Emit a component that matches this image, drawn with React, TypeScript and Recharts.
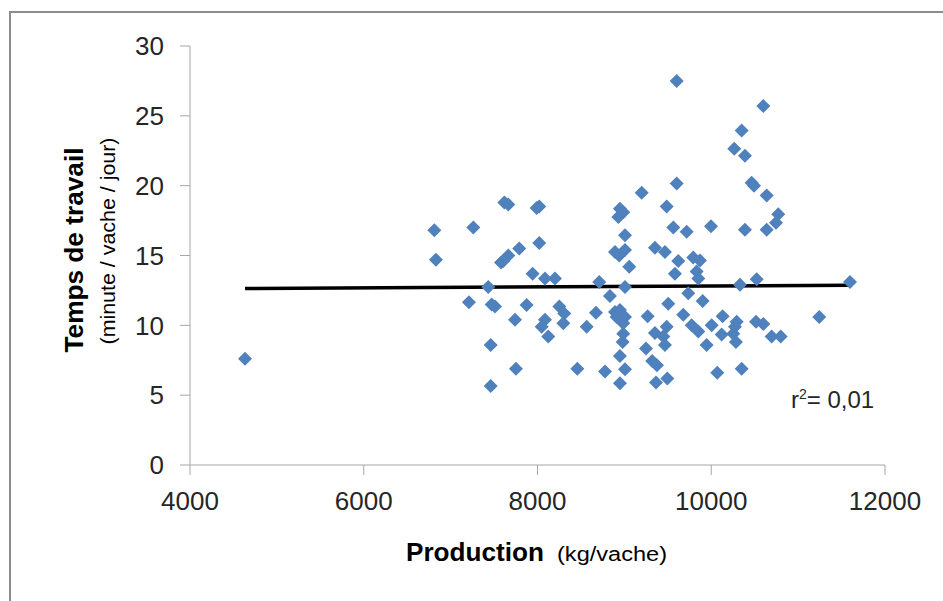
import { ScatterChart, Scatter, XAxis, YAxis, ReferenceLine, Label } from 'recharts';

// Production laitière (kg/vache) et temps de travail (min/vache/jour)
const production = [
  4633, 6812, 6831, 7261, 7618, 7664, 8020, 7990, 8020, 7790,
  7664, 7606, 7580, 7944, 8086, 8201, 7433, 7211, 7473, 7511,
  7875, 7741, 8251, 8308, 8086, 8048, 8124, 8297, 7461, 7752,
  7461, 9602, 9199, 8949, 8987, 8930, 9487, 9563, 9717, 9997,
  9007, 8892, 8941, 9007, 9352, 9467, 9620, 9582, 9793, 9870,
  9832, 9851, 9056, 8711, 9007, 9735, 8834, 9901, 9505, 8673,
  8892, 8949, 9007, 8911, 9268, 8566, 8987, 8987, 8980, 9678,
  9775, 9851, 9352, 9487, 9448, 9467, 9947, 9249, 8949, 9320,
  9375, 8458, 8777, 9007, 8949, 9364, 9494, 9602, 10599, 10350,
  10265, 10388, 10465, 10492, 10638, 10771, 10745, 10388, 10638, 10331,
  10523, 11597, 10131, 11243, 10005, 10293, 10273, 10253, 10284, 10515,
  10599, 10120, 10695, 10799, 10069, 10350,
];

const tempsTravail = [
  7.6, 16.8, 14.7, 17.0, 18.8, 18.65, 18.5, 18.4, 15.9, 15.5,
  15.0, 14.6, 14.5, 13.7, 13.35, 13.35, 12.75, 11.65, 11.5, 11.35,
  11.45, 10.4, 11.35, 10.85, 10.4, 9.9, 9.2, 10.15, 8.6, 6.9,
  5.65, 20.15, 19.5, 18.35, 18.1, 17.75, 18.5, 17.0, 16.7, 17.1,
  16.45, 15.25, 15.0, 15.4, 15.55, 15.25, 14.6, 13.7, 14.85, 14.65,
  13.85, 13.35, 14.2, 13.1, 12.75, 12.3, 12.1, 11.75, 11.55, 10.9,
  10.95, 11.1, 10.6, 10.6, 10.65, 9.9, 10.15, 9.4, 8.8, 10.75,
  10.0, 9.55, 9.45, 9.9, 9.2, 8.6, 8.6, 8.35, 7.8, 7.45,
  7.15, 6.9, 6.7, 6.85, 5.85, 5.9, 6.2, 27.5, 25.7, 23.95,
  22.65, 22.15, 20.2, 20.0, 19.3, 17.95, 17.35, 16.85, 16.85, 12.9,
  13.3, 13.1, 10.65, 10.6, 10.0, 10.25, 9.9, 9.4, 8.8, 10.25,
  10.1, 9.35, 9.2, 9.2, 6.6, 6.9,
];

const trendX = [4633, 11597];
const trendY = [12.64, 12.87];

const xTicks = [4000, 6000, 8000, 10000, 12000];
const yTicks = [0, 5, 10, 15, 20, 25, 30];

const points = production.map((x, i) => ({ x, y: tempsTravail[i] }));

const FONT = '"Liberation Sans", Arial, sans-serif';

const Diamond = (props: any) => {
  const { cx, cy } = props;
  const r = 7;
  return <path d={`M${cx},${cy - r}L${cx + r},${cy}L${cx},${cy + r}L${cx - r},${cy}Z`} fill="#4f81bd" />;
};

const YTitle = () => (
  <g>
    <text x={83} y={250} transform="rotate(-90 83 250)" textAnchor="middle" fontFamily={FONT}
      fontWeight="bold" fontSize={26} fill="#000" textLength={205} lengthAdjust="spacingAndGlyphs">
      Temps de travail
    </text>
    <text x={115} y={241} transform="rotate(-90 115 241)" textAnchor="middle" fontFamily={FONT}
      fontSize={20} fill="#000" textLength={207} lengthAdjust="spacingAndGlyphs">
      (minute / vache / jour)
    </text>
  </g>
);

const XTitle = () => (
  <g>
    <text x={406} y={561} fontFamily={FONT} fontWeight="bold" fontSize={26} fill="#000"
      textLength={138} lengthAdjust="spacingAndGlyphs">
      Production
    </text>
    <text x={557} y={561} fontFamily={FONT} fontSize={20} fill="#000"
      textLength={110} lengthAdjust="spacingAndGlyphs">
      (kg/vache)
    </text>
  </g>
);

export default function App() {
  return (
    <div style={{ position: 'fixed', left: 0, top: 0, width: 943, height: 601, background: '#fff', overflow: 'hidden' }}>
      <div style={{ position: 'absolute', left: 9, top: 11, width: 960, height: 620, border: '2px solid #8c8c8c' }} />
      <div style={{ position: 'absolute', left: 0, top: 0 }}>
        <ScatterChart width={943} height={601} margin={{ top: 46, right: 58, bottom: 0, left: 0 }}>
          <XAxis type="number" dataKey="x" domain={[4000, 12000]} ticks={xTicks} height={136}
            tickSize={10} tickMargin={17} stroke="#a6a6a6" allowDataOverflow
            tick={{ fontSize: 26, fill: '#262626', fontFamily: FONT }}>
            <Label content={XTitle} />
          </XAxis>
          <YAxis type="number" dataKey="y" domain={[0, 30]} ticks={yTicks} width={190}
            tickSize={10} tickMargin={16} stroke="#a6a6a6"
            tick={{ fontSize: 26, fill: '#262626', fontFamily: FONT }}>
            <Label content={YTitle} />
          </YAxis>
          <Scatter data={points} shape={Diamond} isAnimationActive={false} />
          <ReferenceLine
            segment={[{ x: trendX[0], y: trendY[0] }, { x: trendX[1], y: trendY[1] }]}
            stroke="#000" strokeWidth={3.5}
          />
        </ScatterChart>
      </div>
      <div style={{ position: 'absolute', left: 791, top: 386, fontFamily: FONT, fontSize: 24, color: '#262626' }}>
        r<sup style={{ fontSize: 14 }}>2</sup>= 0,01
      </div>
    </div>
  );
}
